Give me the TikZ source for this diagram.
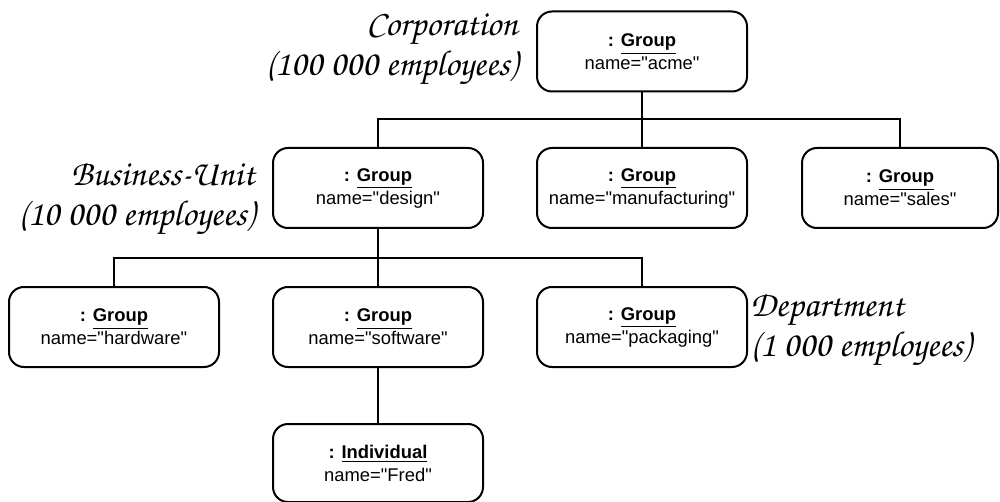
\documentclass[tikz,border=0pt]{standalone}
\usepackage[T1,TU]{fontenc}
\usepackage{fontspec}
\setmainfont{Liberation Sans}[Ligatures=TeXOff]
\usetikzlibrary{positioning}
\newcommand{\handfont}{\fontencoding{T1}\fontfamily{pzc}\fontseries{mb}\fontshape{it}\selectfont}
\tikzset{
  box_font/.style = {font=\fontsize{9.2}{11.5}\selectfont},
  hand_font/.style = {font=\handfont\fontsize{18}{20}\selectfont}
}
\tikzset{
  object/.style = {box_font, draw, line width=1pt, rounded corners=7.5pt, align=center,
    minimum width=105pt, minimum height=40pt, inner sep=0},
  note/.style = {hand_font, inner sep=0},
  link/.style = {line width=1pt}
}

\begin{document}
\begin{tikzpicture}[x=0.5pt, y=-0.5pt]
    \useasboundingbox (0,0) rectangle (1000,502);

    % Objects
    \node[object] (acme) at (642,51.5) {
        \textbf{: \underline{Group}}\\ name="acme"};
    \node[object] (design) at (378,188) {
        \textbf{: \underline{Group}}\\ name="design"};
    \node[object] (manufacturing) at (642,188) {
        \textbf{: \underline{Group}}\\ name="manufacturing"};
    \node[object, minimum width=98pt] (sales) at (900,188) {
        \textbf{: \underline{Group}}\\ name="sales"};
    \node[object] (hardware) at (114,327) {
        \textbf{: \underline{Group}}\\ name="hardware"};
    \node[object] (software) at (378,327) {
        \textbf{: \underline{Group}}\\ name="software"};
    \node[object] (packaging) at (642,327) {
        \textbf{: \underline{Group}}\\ name="packaging"};
    \node[object, minimum height=39pt] (individual) at (378,463) {
        \textbf{: \underline{Individual}}\\ name="Fred"};

    % Levels
    \node[note, align=right, anchor=east] (corp_note) at (518,50) {
        Corporation\\(100 000 employees)};
    \node[note, align=right, anchor=east] (unit_note) at (255,199) {
        Business-Unit\\(10 000 employees)};
    \node[note, align=left, anchor=west] (dept_note) at (750,330) {
        Department\\(1 000 employees)};

    % Lines
    \coordinate (top_bus) at (0,119);
    \coordinate (mid_bus) at (0,258);
    \draw[link] (acme) -- (manufacturing);
    \draw[link] (design.north) -- (design.north |- top_bus) -- (sales.north |- top_bus) -- (sales.north);
    \draw[link] (design) -- (software);
    \draw[link] (hardware.north) -- (hardware.north |- mid_bus) -- (packaging.north |- mid_bus) -- (packaging.north);
    \draw[link] (software) -- (individual);
\end{tikzpicture}
\end{document}
